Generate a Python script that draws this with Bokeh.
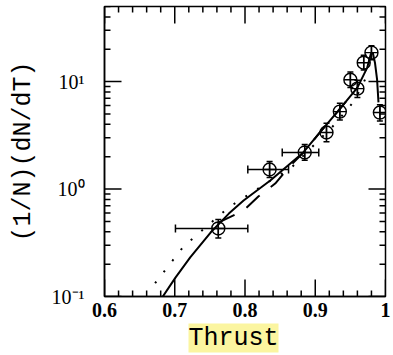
import numpy as np
from bokeh.plotting import figure
from bokeh.models import (ColumnDataSource, Whisker, TeeHead, CustomJSTickFormatter,
                          Title, Range1d)
from bokeh.embed import file_html
from bokeh.resources import INLINE

# ---- data ----
pt_x = [0.762, 0.835, 0.885, 0.916, 0.935, 0.950, 0.960, 0.969, 0.980, 0.992]
pt_y = [0.43, 1.52, 2.19, 3.36, 5.26, 10.4, 8.6, 15.0, 18.6, 5.15]
pt_ylo = [0.35, 1.28, 1.85, 2.75, 4.4, 8.8, 7.1, 12.8, 16.0, 4.3]
pt_yhi = [0.52, 1.80, 2.60, 4.10, 6.3, 12.3, 10.3, 17.6, 21.6, 6.1]
pt_xlo = [0.701, 0.804, 0.853]
pt_xhi = [0.804, 0.862, 0.905]

solid_x = [0.683, 0.701, 0.722, 0.751, 0.777, 0.798, 0.836, 0.883, 0.9075, 0.933,
           0.960, 0.974, 0.979, 0.982, 0.985, 0.988, 0.990]
solid_y = [0.10, 0.150, 0.231, 0.394, 0.591, 0.782, 1.20, 2.19, 3.43, 5.37,
           8.8, 13.5, 18.0, 18.5, 15.0, 10.5, 6.4]

dash_x = [0.762, 0.798, 0.819, 0.843, 0.862, 0.886, 0.9075, 0.933, 0.960]
dash_y = [0.487, 0.631, 0.851, 1.125, 1.585, 2.28, 3.43, 5.37, 8.8]

dot_x = [0.672, 0.7125, 0.7765, 0.8676, 0.9274, 0.9559, 0.9758]
dot_y = [0.133, 0.292, 0.673, 1.62, 3.98, 6.65, 12.1]

x_major = [0.6, 0.7, 0.8, 0.9, 1.0]
y_major = [0.1, 1.0, 10.0]
x_label = "Thrust"
y_label = "(1/N)(dN/dT)"

X0, X1, Y0, Y1 = 0.6, 1.0, 0.1, 50.0
W, H = 393, 355
BL, BR, BT, BB = 104, 8, 6, 59
FW, FH = W - BL - BR, H - BT - BB   # frame size in px

p = figure(width=W, height=H, x_range=Range1d(X0, X1), y_range=Range1d(Y0, Y1),
           y_axis_type="log", output_backend="svg", toolbar_location=None,
           min_border_left=BL, min_border_right=BR, min_border_top=BT, min_border_bottom=BB)
p.grid.visible = False
p.outline_line_color = "black"
p.outline_line_width = 1.5

def style_axis(ax):
    ax.major_tick_in = 0
    ax.major_tick_out = 0
    ax.minor_tick_in = 0
    ax.minor_tick_out = 0
    ax.axis_line_width = 1.5
    ax.axis_line_color = "black"

xfmt = CustomJSTickFormatter(code="return tick > 0.999 ? '1' : tick.toFixed(1);")
yfmt = CustomJSTickFormatter(code="""
const e = Math.round(Math.log10(tick));
const m = {"-":"\u207B","0":"\u2070","1":"\u00B9","2":"\u00B2","3":"\u00B3","4":"\u2074",
           "5":"\u2075","6":"\u2076","7":"\u2077","8":"\u2078","9":"\u2079"};
return "10" + String(e).split("").map(c => m[c]).join("");
""")

xa = p.xaxis[0]
xa.ticker = x_major
xa.formatter = xfmt
style_axis(xa)
xa.major_label_text_font = "Liberation Serif"
xa.major_label_text_font_style = "bold"
xa.major_label_text_font_size = "20px"
xa.major_label_text_color = "black"
xa.major_label_standoff = 6

ya = p.yaxis[0]
ya.ticker = y_major
ya.formatter = yfmt
style_axis(ya)
ya.major_label_text_font = "Liberation Serif"
ya.major_label_text_font_size = "20px"
ya.major_label_text_color = "black"
ya.major_label_standoff = 20
ya.axis_label = y_label
ya.axis_label_text_font = "Liberation Mono"
ya.axis_label_text_font_size = "25px"
ya.axis_label_text_font_style = "normal"
ya.axis_label_text_color = "black"
ya.axis_label_standoff = 11

# inward ticks on all four sides: one short line per tick (pixel length -> data length)
x_minor = [float(v) for v in np.round(np.arange(X0, X1 + 1e-9, 0.02), 2)
           if min(abs(v - m) for m in x_major) > 1e-6]
y_minor = [float(m * d) for d in (0.1, 1.0, 10.0) for m in range(2, 10) if m * d <= Y1]

dx_px = (X1 - X0) / FW
dlog_px = float(np.log10(Y1 / Y0) / FH)

def tick_line(xs, ys):
    p.line(x=[float(v) for v in xs], y=[float(v) for v in ys],
           line_color="black", line_width=1.5)

for xs, L in ((x_major, 17), (x_minor, 6)):
    f = 10 ** (L * dlog_px)
    for x in xs:
        tick_line([x, x], [Y0, Y0 * f])
        tick_line([x, x], [Y1, Y1 / f])
for ys, L in ((y_major, 17), (y_minor, 6)):
    d = L * dx_px
    for y in ys:
        tick_line([X0, X0 + d], [y, y])
        tick_line([X1, X1 - d], [y, y])

# curves
p.line(dot_x, dot_y, line_color="black", line_width=2, line_dash="2 12")
p.line(dash_x, dash_y, line_color="black", line_width=2, line_dash="18 14")
p.line(solid_x, solid_y, line_color="black", line_width=2)

# error bars
src = ColumnDataSource(dict(x=pt_x, y=pt_y, lo=pt_ylo, hi=pt_yhi))
p.add_layout(Whisker(source=src, base="x", lower="lo", upper="hi", dimension="height",
                     line_width=1.5, line_color="black",
                     lower_head=TeeHead(size=6, line_width=1.5),
                     upper_head=TeeHead(size=6, line_width=1.5)))
n = len(pt_xlo)
srcx = ColumnDataSource(dict(y=pt_y[:n], lo=pt_xlo, hi=pt_xhi))
p.add_layout(Whisker(source=srcx, base="y", lower="lo", upper="hi", dimension="width",
                     line_width=1.5, line_color="black",
                     lower_head=TeeHead(size=8, line_width=1.5),
                     upper_head=TeeHead(size=8, line_width=1.5)))

p.scatter(pt_x, pt_y, marker="circle_cross", size=13, fill_color="white", fill_alpha=0.0,
          line_color="black", line_width=1.4)

p.add_layout(Title(text=x_label, align="left", offset=84, standoff=4,
                   text_font="Liberation Mono", text_font_size="25px",
                   text_font_style="normal", text_color="black",
                   background_fill_color="#fbf5a0"), "below")

open("out.html", "w").write(file_html(p, INLINE))
